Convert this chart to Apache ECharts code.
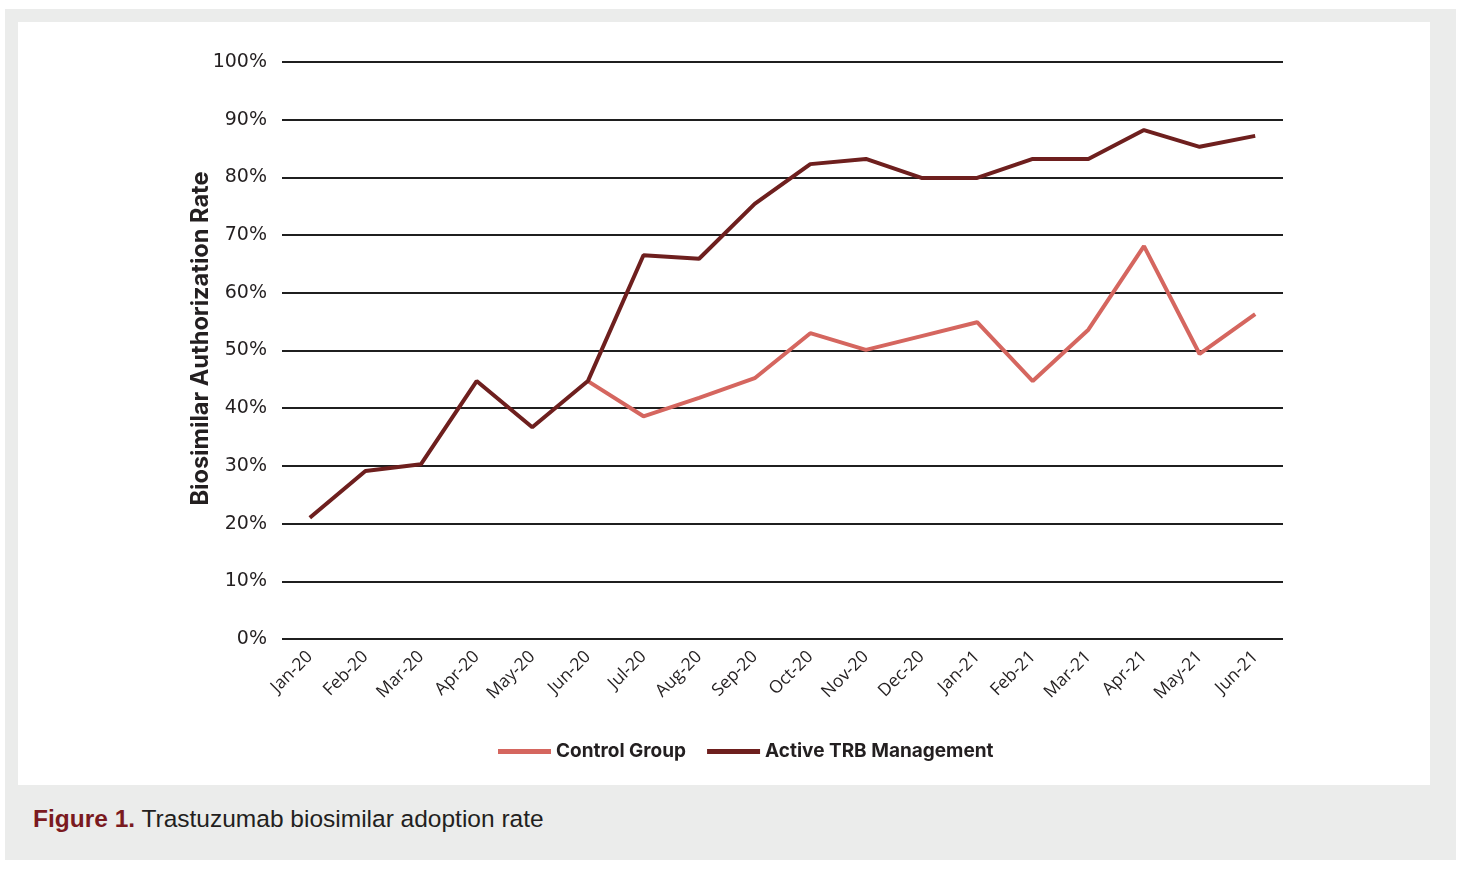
<!DOCTYPE html>
<html>
<head>
<meta charset="utf-8">
<script src="https://cdn.jsdelivr.net/npm/echarts@6/dist/echarts.min.js"></script>
<style>
  html, body { margin:0; padding:0; background:#ffffff; width:1464px; height:870px; overflow:hidden; }
  #outer { position:absolute; left:5px; top:9px; width:1451px; height:851px; background:#ebeceb; }
  #panel { position:absolute; left:18px; top:22px; width:1412px; height:763px; background:#ffffff; }
  #chart { position:absolute; left:0; top:0; width:1412px; height:763px; }
  #caption { position:absolute; left:33px; top:805px; font-family:"Liberation Sans", Arial, sans-serif; font-size:24.5px; color:#231f20; }
  #caption b { color:#7a1a1f; }
</style>
</head>
<body>
<div id="outer"></div>
<div id="panel"><div id="chart"></div></div>
<div id="caption"><b>Figure 1.</b> Trastuzumab biosimilar adoption rate</div>
<script>
const categories = ["Jan-20","Feb-20","Mar-20","Apr-20","May-20","Jun-20","Jul-20","Aug-20","Sep-20","Oct-20","Nov-20","Dec-20","Jan-21","Feb-21","Mar-21","Apr-21","May-21","Jun-21"];
const controlGroup = [null,null,null,null,null,44.7,38.6,41.8,45.2,53.0,50.1,52.5,54.9,44.7,53.6,68.1,49.4,56.3];
const activeTRB = [21.0,29.1,30.3,44.7,36.7,44.7,66.5,65.9,75.4,82.3,83.2,79.9,79.9,83.2,83.2,88.2,85.3,87.2];
const seriesNames = ["Control Group","Active TRB Management"];
const yTitle = "Biosimilar Authorization Rate";

const chart = echarts.init(document.getElementById('chart'));
chart.setOption({
  animation:false,
  backgroundColor:'#ffffff',
  grid:{ left:264, top:40, width:1001, height:577, containLabel:false },
  legend:{
    data:seriesNames, bottom:19, left:475, icon:'rect', itemWidth:53, itemHeight:5, itemGap:21,
    textStyle:{ fontFamily:'Inter, "Noto Sans", sans-serif', fontWeight:'bold', fontSize:19, color:'#231f20' }
  },
  graphic:[{
    type:'text', x:183, y:316.5, rotation:Math.PI/2,
    style:{ text:yTitle, align:'center', verticalAlign:'middle',
      font:'bold 23.6px Inter, "Noto Sans", sans-serif', fill:'#231f20' }
  }],
  xAxis:{
    type:'category', data:categories, boundaryGap:true,
    axisLine:{show:false}, axisTick:{show:false},
    axisLabel:{ rotate:45, margin:15, fontFamily:'"Open Sans", sans-serif', fontSize:17.5, color:'#231f20', interval:0 }
  },
  yAxis:{
    type:'value', min:0, max:100, interval:10,
    axisLine:{show:false}, axisTick:{show:false},
    axisLabel:{ formatter:'{value}%', margin:15, fontFamily:'"DejaVu Sans", sans-serif', fontSize:19, color:'#231f20' },
    splitLine:{ lineStyle:{ color:'#1f1f1f', width:2 } }
  },
  series:[
    { name:seriesNames[0], type:'line', data:controlGroup, symbol:'none', connectNulls:false,
      lineStyle:{ color:'#d5665f', width:4 }, itemStyle:{ color:'#d5665f' } },
    { name:seriesNames[1], type:'line', data:activeTRB, symbol:'none',
      lineStyle:{ color:'#6e1f1e', width:4 }, itemStyle:{ color:'#6e1f1e' } }
  ]
});
</script>
</body>
</html>
